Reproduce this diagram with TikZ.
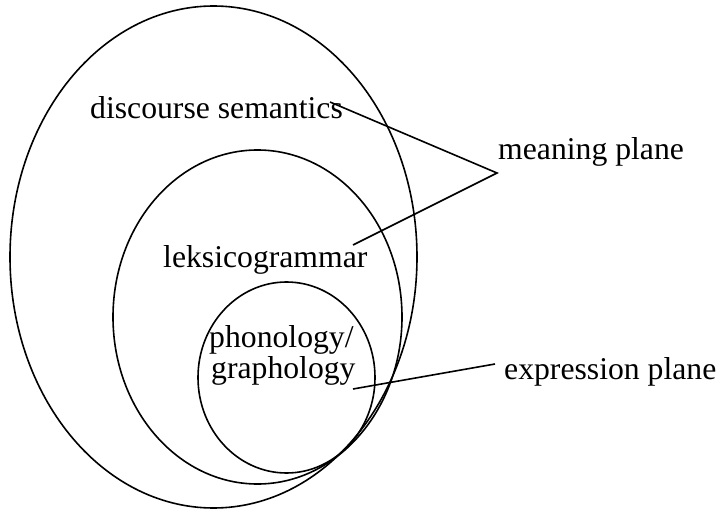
\documentclass[tikz,border=0pt]{standalone}
\usepackage{fontspec}
\setmainfont{Liberation Serif}
\begin{document}
\begin{tikzpicture}[x=1pt,y=-1pt,
  ring/.style={draw=black,line width=1.6pt},
  lead/.style={draw=black,line width=1.6pt},
  lbl/.style={inner sep=0pt,anchor=base west,font=\fontsize{31.7}{36}\selectfont}]
\useasboundingbox (0,0) rectangle (721,511);
% ellipses
\draw[ring] (213.5,257) ellipse [x radius=203.5, y radius=251];
\draw[ring] (257.5,317) ellipse [x radius=144.5, y radius=167];
\draw[ring] (286.5,377.5) ellipse [x radius=88.5, y radius=95.5];
% labels
\node[lbl] (ds) at (90,119) {discourse semantics};
\node[lbl] (lg) at (163,267) {leksicogrammar};
\node[lbl] (ph) at (209,347) {phonology/};
\node[lbl] (gr) at (211,378) {graphology};
\node[lbl] (mp) at (498,159) {meaning plane};
\node[lbl] (ep) at (504,379) {expression plane};
% connector points
\coordinate (dsend) at (330,102);
\coordinate (lgend) at (353,245);
\coordinate (apex) at (497,173);
\coordinate (grend) at (353,389);
\coordinate (epend) at (495,364);
\draw[lead] (dsend) -- (apex) -- (lgend);
\draw[lead] (grend) -- (epend);
\end{tikzpicture}
\end{document}
